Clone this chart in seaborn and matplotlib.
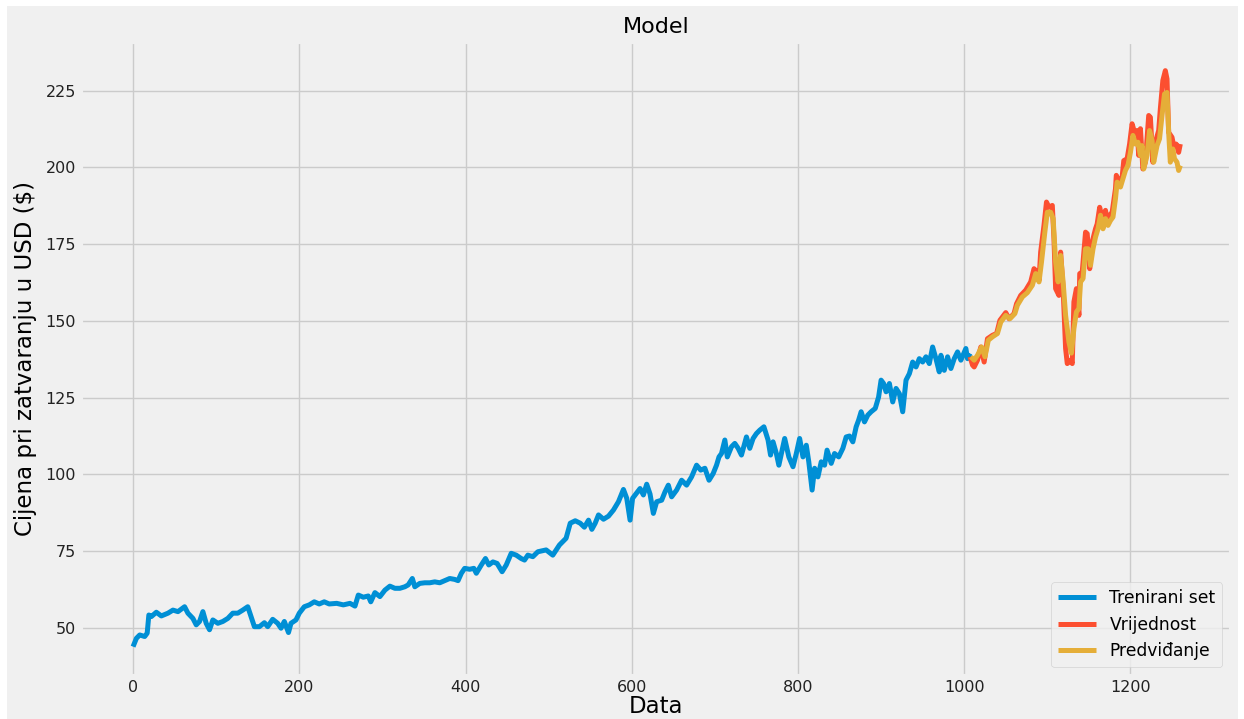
import matplotlib
matplotlib.use("Agg")
import matplotlib.pyplot as plt
import seaborn as sns
import pandas as pd
from matplotlib.patches import Rectangle

# ---- data ----
train_idx = [0, 4, 8, 14, 17, 19, 22, 28, 34, 42, 48, 54, 58, 62, 66, 72, 76, 80, 84, 88,
             92, 96, 102, 108, 114, 120, 126, 132, 138, 142, 146, 152, 158, 162, 168, 174,
             178, 182, 187, 190, 196, 200, 206, 212, 218, 224, 230, 236, 245, 253, 261, 267,
             271, 277, 283, 286, 291, 297, 303, 309, 315, 321, 327, 331, 336, 339, 345, 351,
             357, 363, 369, 375, 381, 387, 391, 395, 399, 405, 410, 413, 419, 424, 428, 433,
             438, 444, 449, 455, 461, 467, 471, 475, 481, 487, 497, 505, 513, 521, 526, 532,
             538, 543, 548, 552, 556, 560, 566, 572, 578, 584, 590, 594, 598, 601, 606, 610,
             614, 618, 622, 626, 630, 636, 640, 644, 648, 654, 660, 666, 672, 678, 683, 688,
             693, 698, 702, 705, 708, 712, 715, 720, 724, 728, 732, 738, 742, 746, 750, 754,
             759, 764, 767, 770, 774, 777, 780, 784, 789, 794, 798, 802, 806, 810, 813, 817,
             820, 824, 828, 832, 835, 840, 844, 849, 854, 858, 862, 866, 870, 873, 876, 880,
             884, 888, 893, 897, 900, 903, 906, 910, 914, 918, 922, 926, 930, 934, 938, 942,
             946, 950, 954, 958, 962, 966, 970, 972, 976, 980, 984, 988, 992, 996, 1002, 1004,
             1007]
train_val = [43.9, 46.6, 47.7, 47.2, 48.3, 54.2, 53.7, 55.1, 53.9, 54.8, 55.8, 55.3, 56.1, 56.9,
             54.8, 53.1, 51.0, 52.1, 55.3, 51.5, 49.4, 52.6, 51.5, 52.1, 53.1, 54.8, 54.8, 55.8,
             56.9, 53.7, 50.4, 50.4, 51.7, 50.4, 52.8, 51.5, 49.9, 52.1, 48.5, 51.5, 52.6, 54.8,
             56.9, 57.5, 58.5, 57.8, 58.5, 57.8, 58.0, 57.5, 58.0, 57.1, 60.7, 60.0, 60.4, 58.5,
             61.5, 60.2, 62.3, 63.6, 62.9, 62.9, 63.4, 64.0, 66.1, 63.4, 64.5, 64.7, 64.7, 65.0,
             64.7, 65.4, 66.1, 65.8, 65.4, 67.8, 69.4, 69.1, 69.4, 67.8, 70.5, 72.6, 70.5, 71.5,
             71.0, 68.3, 70.5, 74.3, 73.7, 72.6, 72.1, 73.7, 73.2, 74.8, 75.4, 73.7, 77.0, 79.2,
             84.1, 84.9, 84.1, 82.8, 85.1, 82.1, 84.1, 86.8, 85.4, 86.4, 88.4, 91.1, 95.1, 92.2,
             85.1, 92.2, 94.0, 95.4, 93.3, 96.8, 93.6, 87.3, 91.1, 91.6, 94.3, 96.5, 92.7, 94.9,
             98.1, 96.5, 99.2, 103.0, 101.4, 102.0, 98.1, 100.3, 103.0, 105.7, 106.8, 111.2,
             105.7, 109.0, 110.1, 108.5, 106.3, 112.2, 108.5, 111.7, 113.3, 114.4, 115.5, 111.2,
             106.3, 110.6, 106.8, 103.0, 106.8, 111.7, 105.7, 102.5, 106.8, 111.7, 105.7, 109.5,
             104.1, 94.9, 102.0, 99.2, 104.1, 103.0, 107.9, 103.6, 106.8, 105.7, 108.5, 112.2,
             112.5, 110.6, 115.5, 117.7, 120.4, 117.1, 119.3, 120.4, 121.5, 125.2, 130.7, 129.6,
             126.9, 129.6, 123.6, 128.0, 126.3, 120.4, 130.7, 132.8, 136.6, 135.0, 137.7, 136.6,
             138.3, 136.1, 141.5, 137.7, 133.4, 138.8, 133.9, 138.3, 134.5, 137.7, 139.9, 137.2,
             141.0, 137.7, 139.4]

valid_idx = [1007, 1010, 1012, 1016, 1020, 1024, 1028, 1034, 1039, 1043, 1050, 1054, 1060, 1063,
             1068, 1074, 1080, 1084, 1088, 1090, 1092, 1096, 1099, 1102, 1106, 1108, 1110, 1114,
             1116, 1119, 1122, 1124, 1128, 1130, 1132, 1135, 1138, 1139, 1142, 1146, 1148, 1151,
             1154, 1158, 1160, 1163, 1166, 1170, 1172, 1175, 1178, 1182, 1183, 1186, 1190, 1192,
             1196, 1199, 1202, 1206, 1208, 1210, 1212, 1215, 1218, 1222, 1224, 1227, 1230, 1234,
             1236, 1239, 1242, 1244, 1246, 1250, 1252, 1255, 1258, 1260]
valid_val = [138.3, 135.6, 135.0, 137.2, 141.5, 136.6, 144.2, 145.3, 145.9, 150.2, 152.7, 150.7,
             152.4, 155.6, 158.3, 160.0, 162.7, 167.0, 165.9, 163.2, 172.4, 181.1, 188.7, 187.0,
             187.6, 176.8, 160.5, 158.3, 172.4, 160.5, 141.0, 136.1, 137.2, 136.1, 156.2, 160.5,
             151.8, 165.4, 165.9, 178.9, 178.4, 167.0, 175.7, 180.0, 181.6, 187.0, 183.3, 186.0,
             182.7, 184.4, 185.4, 193.0, 197.4, 195.7, 196.8, 202.2, 202.8, 207.6, 214.2, 210.4,
             212.0, 203.9, 212.6, 199.5, 201.7, 216.9, 216.3, 201.7, 208.2, 212.0, 219.1, 228.3,
             231.5, 228.8, 211.4, 209.8, 207.1, 207.6, 204.9, 207.6]

pred_idx = [1008, 1012, 1016, 1021, 1025, 1029, 1034, 1040, 1044, 1050, 1055, 1061, 1064, 1070,
            1076, 1082, 1086, 1090, 1093, 1097, 1100, 1104, 1107, 1110, 1113, 1116, 1119, 1122,
            1126, 1129, 1132, 1135, 1138, 1140, 1143, 1146, 1149, 1152, 1155, 1158, 1161, 1164,
            1167, 1170, 1173, 1176, 1179, 1182, 1184, 1188, 1191, 1194, 1197, 1200, 1203, 1206,
            1209, 1212, 1214, 1216, 1220, 1223, 1226, 1228, 1232, 1235, 1238, 1241, 1244, 1246,
            1248, 1251, 1253, 1256, 1258, 1260]
pred_val = [138.3, 137.2, 138.8, 141.5, 138.3, 143.7, 144.8, 145.9, 149.6, 151.8, 150.7, 152.4,
            155.1, 157.8, 159.2, 161.6, 165.4, 162.7, 169.2, 178.9, 185.4, 185.4, 183.3, 169.2,
            162.7, 171.3, 162.7, 151.8, 143.1, 139.5, 147.5, 152.9, 154.0, 162.7, 163.8, 173.5,
            173.5, 168.1, 173.5, 177.3, 180.0, 184.4, 180.0, 183.3, 181.1, 182.7, 183.8, 189.8,
            195.2, 193.6, 196.3, 199.0, 200.6, 204.9, 210.4, 207.6, 208.2, 203.9, 207.1, 199.5,
            203.9, 212.0, 208.8, 201.7, 207.1, 209.3, 216.9, 223.9, 224.4, 211.4, 201.7, 206.0,
            202.8, 201.7, 199.0, 200.6]

labels = ["Trenirani set", "Vrijednost", "Predviđanje"]
title = "Model"
xlabel = "Data"
ylabel = "Cijena pri zatvaranju u USD ($)"

# ---- style ----
plt.style.use("fivethirtyeight")
colors = ["#008fd5", "#fc4f30", "#e5ae38"]

fig = plt.figure(figsize=(12.44, 7.19), dpi=100, facecolor="white")
fig.patches.append(Rectangle((7 / 1244, 0), 1231 / 1244, 1 - 6 / 719,
                             transform=fig.transFigure, facecolor="#f0f0f0",
                             edgecolor="none", zorder=-10))
ax = fig.add_axes([80.7 / 1244, 1 - 675.5 / 719, (1231 - 80.7) / 1244, (675.5 - 41.5) / 719])

train = pd.DataFrame({"x": train_idx, "y": train_val})
valid = pd.DataFrame({"x": valid_idx, "y": valid_val})
pred = pd.DataFrame({"x": pred_idx, "y": pred_val})

lw = 3.6
sns.lineplot(data=train, x="x", y="y", ax=ax, color=colors[0], linewidth=lw, label=labels[0])
sns.lineplot(data=valid, x="x", y="y", ax=ax, color=colors[1], linewidth=lw, label=labels[1])
sns.lineplot(data=pred, x="x", y="y", ax=ax, color=colors[2], linewidth=lw, label=labels[2])

ax.set_xlim(-63, 1321)
ax.set_ylim(34.5, 241)
ax.set_xticks([0, 200, 400, 600, 800, 1000, 1200])
ax.set_yticks([50, 75, 100, 125, 150, 175, 200, 225])
ax.tick_params(axis="both", labelsize=11.5, colors="#222222")

ax.set_title(title, fontsize=16, pad=6)
ax.set_xlabel(xlabel, fontsize=16.5, labelpad=0)
ax.set_ylabel(ylabel, fontsize=16.5, labelpad=6)

leg = ax.legend(loc="lower right", fontsize=12.3, handlelength=2.2)

fig.savefig("out.png", dpi=100, facecolor=fig.get_facecolor())
